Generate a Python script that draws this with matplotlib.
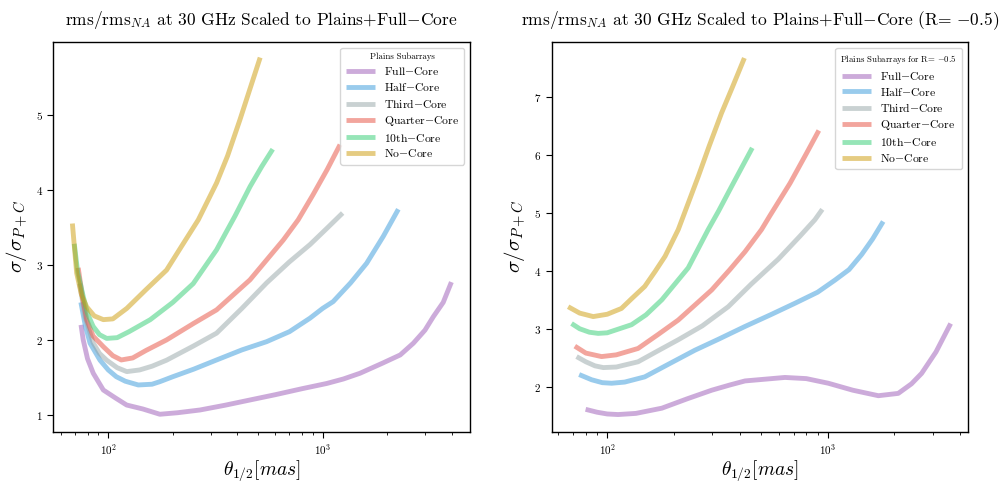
import matplotlib
matplotlib.use("Agg")
import matplotlib.pyplot as plt

plt.rcParams['mathtext.fontset'] = 'cm'
plt.rcParams['font.family'] = 'serif'
plt.rcParams['font.serif'] = ['cmr10', 'DejaVu Serif']
plt.rcParams['axes.formatter.use_mathtext'] = True
plt.rcParams['axes.unicode_minus'] = False

labels = ['Full$-$Core', 'Half$-$Core', 'Third$-$Core', 'Quarter$-$Core', '10th$-$Core', 'No$-$Core']
colors = ['#9b59b6', '#3498db', '#95a5a6', '#e74c3c', '#2ecc71', '#cc9a06']

# Left panel
full_x_L = [74.6, 76.4, 80, 85.1, 94.8, 108, 121.8, 145, 174, 210, 268, 350, 458, 600, 800, 1045, 1250, 1493, 1900, 2300, 2648, 3000, 3283, 3650, 3985]
full_y_L = [2.2, 2.0, 1.75, 1.556, 1.333, 1.227, 1.133, 1.08, 1.01, 1.03, 1.067, 1.13, 1.2, 1.27, 1.35, 1.42, 1.48, 1.556, 1.69, 1.8, 1.956, 2.13, 2.31, 2.5, 2.77]
half_x_L = [74.5, 78, 82.2, 91.5, 100, 109, 120, 138, 160, 174, 200, 250, 320, 420, 548, 700, 873, 1000, 1119, 1350, 1603, 1918, 2254]
half_y_L = [2.5, 2.2, 1.956, 1.73, 1.6, 1.51, 1.45, 1.4, 1.41, 1.444, 1.51, 1.61, 1.733, 1.867, 1.977, 2.11, 2.29, 2.42, 2.51, 2.76, 3.02, 3.38, 3.74]
third_x_L = [73.5, 78, 85, 91, 98.3, 110, 122, 140, 160, 187, 250, 320, 420, 548, 700, 873, 1050, 1239]
third_y_L = [2.75, 2.3, 1.96, 1.82, 1.73, 1.63, 1.578, 1.6, 1.65, 1.73, 1.92, 2.09, 2.42, 2.76, 3.04, 3.27, 3.49, 3.69]
quart_x_L = [72.4, 76, 79.3, 85, 94.8, 105, 115, 130, 150, 187, 250, 320, 458, 655, 769, 900, 1050, 1205]
quart_y_L = [2.96, 2.55, 2.27, 2.05, 1.91, 1.79, 1.733, 1.76, 1.86, 2.0, 2.22, 2.4, 2.8, 3.33, 3.6, 3.93, 4.27, 4.6]
tenth_x_L = [69.4, 72, 76.4, 80, 85, 91, 98.3, 110, 125, 157, 200, 249, 320, 357, 390, 458, 520, 585]
tenth_y_L = [3.28, 2.9, 2.58, 2.35, 2.18, 2.07, 2.02, 2.03, 2.11, 2.27, 2.5, 2.75, 3.2, 3.45, 3.65, 4.04, 4.31, 4.54]
none_x_L = [68, 71.2, 75, 79.3, 86, 94.8, 105, 122, 150, 187, 220, 263, 320, 360, 411, 460, 511]
none_y_L = [3.55, 2.89, 2.6, 2.44, 2.32, 2.27, 2.28, 2.42, 2.67, 2.93, 3.25, 3.6, 4.09, 4.45, 4.93, 5.36, 5.76]

# Right panel (R = -0.5)
full_x_R = [79.8, 90, 100, 112, 135, 177, 230, 298, 360, 422, 520, 640, 800, 1007, 1300, 1698, 2090, 2400, 2668, 3100, 3614]
full_y_R = [1.61, 1.56, 1.53, 1.52, 1.54, 1.63, 1.79, 1.94, 2.03, 2.1, 2.13, 2.16, 2.14, 2.06, 1.94, 1.845, 1.885, 2.05, 2.23, 2.6, 3.09]
half_x_R = [74.6, 85, 95, 104.7, 120, 148, 190, 250, 320, 422, 550, 711, 900, 1080, 1250, 1426, 1600, 1786]
half_y_R = [2.21, 2.12, 2.07, 2.06, 2.08, 2.17, 2.39, 2.63, 2.82, 3.04, 3.24, 3.44, 3.63, 3.84, 4.02, 4.28, 4.55, 4.85]
third_x_R = [72.6, 80, 88, 96, 110, 138, 170, 210, 270, 354, 450, 597, 750, 875, 946]
third_y_R = [2.52, 2.43, 2.36, 2.33, 2.34, 2.43, 2.62, 2.81, 3.05, 3.38, 3.77, 4.2, 4.6, 4.88, 5.06]
quart_x_R = [71.3, 80, 94.3, 110, 138, 170, 210, 298, 360, 422, 501, 547, 675, 800, 912]
quart_y_R = [2.70, 2.58, 2.52, 2.55, 2.66, 2.9, 3.15, 3.67, 4.02, 4.33, 4.71, 4.95, 5.51, 6.02, 6.42]
tenth_x_R = [68.9, 75, 83, 91, 100, 129, 150, 177, 233, 287, 320, 366, 410, 455]
tenth_y_R = [3.09, 3.0, 2.94, 2.92, 2.93, 3.07, 3.24, 3.5, 4.05, 4.71, 5.03, 5.45, 5.8, 6.12]
none_x_R = [66.5, 75, 86.4, 100, 116, 130, 148, 165, 183, 210, 259, 290, 330, 370, 419]
none_y_R = [3.38, 3.27, 3.21, 3.25, 3.35, 3.53, 3.73, 3.99, 4.25, 4.71, 5.63, 6.15, 6.72, 7.17, 7.67]

left_series = [(full_x_L, full_y_L), (half_x_L, half_y_L), (third_x_L, third_y_L),
               (quart_x_L, quart_y_L), (tenth_x_L, tenth_y_L), (none_x_L, none_y_L)]
right_series = [(full_x_R, full_y_R), (half_x_R, half_y_R), (third_x_R, third_y_R),
                (quart_x_R, quart_y_R), (tenth_x_R, tenth_y_R), (none_x_R, none_y_R)]

fig = plt.figure(figsize=(10, 4.86), dpi=100)
ax1 = fig.add_axes([0.0533, 0.111, 0.4167, 0.803])
ax2 = fig.add_axes([0.5517, 0.111, 0.4163, 0.803])

titles = [r'rms/rms$_{NA}$ at 30 GHz Scaled to Plains+Full$-$Core',
          r'rms/rms$_{NA}$ at 30 GHz Scaled to Plains+Full$-$Core (R= $-0.5$)']
leg_titles = ['Plains Subarrays', r'Plains Subarrays for R= $-0.5$']
xlims = [(55.4, 4866), (56.0, 4331)]
ylims = [(0.773, 5.97), (1.218, 7.95)]

for ax, series, title, lt, xl, yl in zip([ax1, ax2], [left_series, right_series], titles, leg_titles, xlims, ylims):
    for (x, y), c, lab in zip(series, colors, labels):
        ax.plot(x, y, color=c, alpha=0.5, lw=3.5, label=lab, solid_capstyle='butt',
                solid_joinstyle='round')
    ax.set_xscale('log')
    ax.set_xlim(*xl)
    ax.set_ylim(*yl)
    ax.set_title(title, fontsize=12.5, pad=12)
    ax.set_xlabel(r'$\theta_{1/2} [mas]$', fontsize=14, labelpad=1)
    ax.set_ylabel(r'$\sigma/\sigma_{P+C}$', fontsize=15)
    ax.tick_params(axis='both', which='major', labelsize=8, length=4, direction='out')
    ax.tick_params(axis='x', which='minor', length=2.5)
    ax.tick_params(axis='y', which='minor', left=False)
    for sp in ax.spines.values():
        sp.set_linewidth(1.0)
    leg = ax.legend(title=lt, loc='upper right', fontsize=8.4, title_fontsize=6.3,
                    frameon=True, fancybox=True, framealpha=0.8, edgecolor='#cccccc',
                    handlelength=2.5, borderpad=0.45, labelspacing=0.33)

fig.savefig('out.png', dpi=100)
